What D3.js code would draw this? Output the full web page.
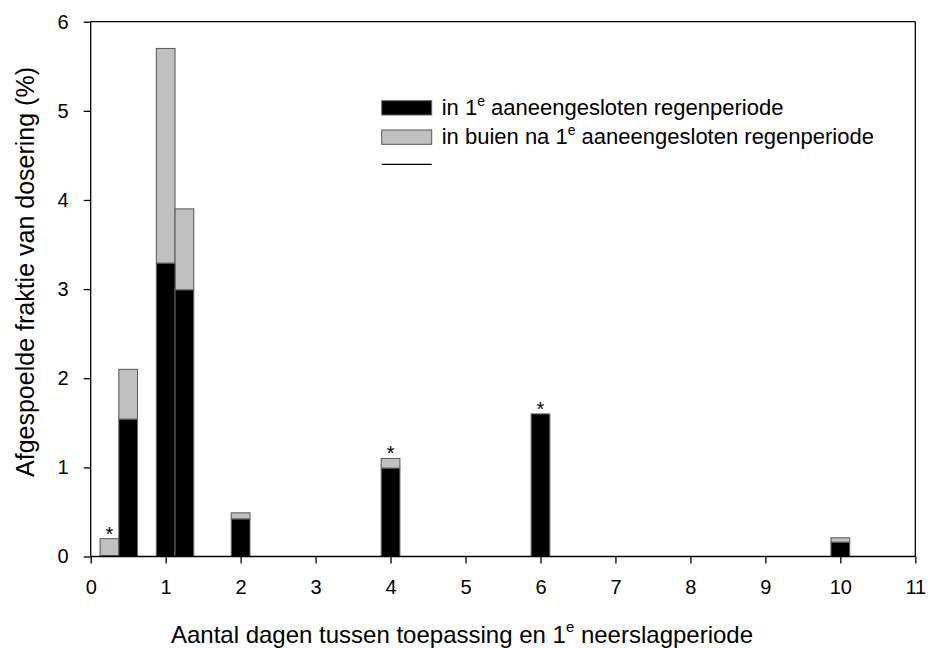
<!DOCTYPE html>
<html><head><meta charset="utf-8">
<script src="https://cdn.jsdelivr.net/npm/d3@7"></script>
<style>body{margin:0;background:#fff}svg{display:block;font-family:"Liberation Sans",Arial,sans-serif}</style>
</head><body><svg id="c" width="928" height="648"></svg>
<script>
const days = [0.25, 0.5, 1.0, 1.25, 2, 4, 6, 10];
const inFirst = [0.01, 1.54, 3.29, 2.99, 0.42, 0.99, 1.6, 0.16];
const afterFirst = [0.19, 0.56, 2.41, 0.91, 0.07, 0.11, 0, 0.05];
const starred = [0.25, 4, 6];
const xTicks = [0,1,2,3,4,5,6,7,8,9,10,11];
const yTicks = [0,1,2,3,4,5,6];
const barWidthDays = 0.25;

const svg = d3.select("#c");
const x = d3.scaleLinear().domain([0, 11]).range([90.7, 915.3]);
const y = d3.scaleLinear().domain([0, 6]).range([556.5, 21.7]);

const rows = days.map((d, i) => ({d, a: inFirst[i], b: afterFirst[i]}));
const bw = x(barWidthDays) - x(0);

const g = svg.append("g");
g.selectAll("rect.g").data(rows.filter(r => r.b > 0)).join("rect")
  .attr("x", r => x(r.d) - bw/2).attr("width", bw)
  .attr("y", r => y(r.a + r.b)).attr("height", r => y(r.a) - y(r.a + r.b))
  .attr("fill", "#c0c0c0").attr("stroke", "#555").attr("stroke-width", 1);
g.selectAll("rect.k").data(rows).join("rect")
  .attr("x", r => x(r.d) - bw/2).attr("width", bw)
  .attr("y", r => y(r.a)).attr("height", r => y(0) - y(r.a))
  .attr("fill", "#000").attr("stroke", "#666").attr("stroke-width", 1);

g.selectAll("text.s").data(rows.filter(r => starred.includes(r.d))).join("text")
  .attr("x", r => x(r.d)).attr("y", r => y(r.a + r.b) + 2)
  .attr("text-anchor", "middle").attr("font-size", 20).text("*");

svg.append("line").attr("x1", x(0)).attr("x2", x(11)).attr("y1", y(6)).attr("y2", y(6)).attr("stroke", "#000").attr("stroke-width", 1.3);
svg.append("line").attr("x1", x(11)).attr("x2", x(11)).attr("y1", y(6)).attr("y2", y(0)).attr("stroke", "#000").attr("stroke-width", 1.3);

const xa = svg.append("g").attr("transform", `translate(0,${y(0)})`)
  .call(d3.axisBottom(x).tickValues(xTicks).tickSize(7).tickPadding(16).tickFormat(d3.format("d")));
const ya = svg.append("g").attr("transform", `translate(${x(0)},0)`)
  .call(d3.axisLeft(y).tickValues(yTicks).tickSize(7).tickPadding(15).tickFormat(d3.format("d")));
[xa, ya].forEach(a => {
  a.attr("font-size", 20).attr("font-family", '"Liberation Sans",Arial,sans-serif');
  a.select(".domain").attr("stroke", "#000").attr("stroke-width", 1.3);
  a.selectAll(".tick line").attr("stroke", "#000").attr("stroke-width", 1.3);
  a.selectAll(".tick text").attr("font-size", 20).attr("fill", "#000");
});
xa.select(".domain").attr("d", `M${x(0)},0H${x(11)}`);
ya.select(".domain").attr("d", `M0,${y(0)}V${y(6)}`);

svg.append("text").attr("transform", `translate(34,272) rotate(-90)`)
  .attr("text-anchor", "middle").attr("font-size", 25).text("Afgespoelde fraktie van dosering (%)");
const xt = svg.append("text").attr("x", 462).attr("y", 643)
  .attr("text-anchor", "middle").attr("font-size", 24);
xt.append("tspan").text("Aantal dagen tussen toepassing en 1");
xt.append("tspan").attr("dy", -11).attr("font-size", 15).text("e");
xt.append("tspan").attr("dy", 11).text(" neerslagperiode");

const lg = svg.append("g").attr("transform", "translate(381.7,100.7)");
lg.append("rect").attr("x", 0).attr("y", 0).attr("width", 50).attr("height", 14.3).attr("fill", "#000").attr("stroke", "#666");
lg.append("rect").attr("x", 0).attr("y", 29.3).attr("width", 50).attr("height", 14.3).attr("fill", "#c0c0c0").attr("stroke", "#555");
lg.append("line").attr("x1", 0).attr("x2", 50).attr("y1", 63.6).attr("y2", 63.6).attr("stroke", "#000").attr("stroke-width", 1.3);
const labels = [["in 1", "e", " aaneengesloten regenperiode"], ["in buien na 1", "e", " aaneengesloten regenperiode"]];
labels.forEach((l, i) => {
  const t = lg.append("text").attr("x", 60).attr("y", 14.3 + i*29.3).attr("font-size", 22);
  t.append("tspan").text(l[0]);
  t.append("tspan").attr("dy", -9).attr("font-size", 14).text(l[1]);
  t.append("tspan").attr("dy", 9).text(l[2]);
});
</script></body></html>
